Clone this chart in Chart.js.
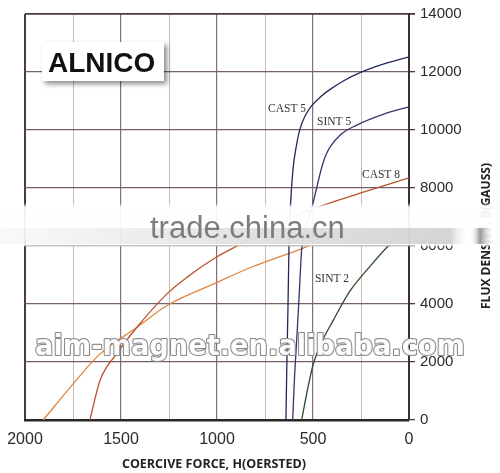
<!DOCTYPE html>
<html>
<head>
    <title>Alnico demagnetization curves</title>
    <style>
        body {
            margin: 0;
            background: #fff;
        }
    </style>
</head>
<body>
    <canvas id="chart" width="500" height="473"></canvas>

    <script src="https://cdn.jsdelivr.net/npm/chart.js"></script>
    <script>
        // curves: H in oersted, B in gauss
        var cast5H = [641, 636, 630, 625, 618, 604, 588, 568, 540, 505, 460, 411, 340, 255, 130, 0];
        var cast5B = [0, 2000, 4000, 6000, 7300, 8660, 9400, 10030, 10500, 10850, 11150, 11400, 11700, 11980, 12280, 12520];

        var sint5H = [606, 596, 585, 572, 559, 535, 507, 481, 455, 429, 359, 272, 135, 0];
        var sint5B = [0, 1500, 2740, 4300, 5890, 6700, 7290, 8000, 8700, 9200, 9820, 10170, 10540, 10800];

        var sint2H = [559, 530, 498, 450, 396, 307, 203, 99, 0];
        var sint2B = [0, 1000, 1950, 2750, 3420, 4450, 5300, 6060, 6600];

        var cast8H = [1662, 1609, 1522, 1418, 1262, 1158, 1002, 880, 700, 507, 250, 0];
        var cast8B = [0, 1370, 2290, 3190, 4340, 4910, 5620, 6050, 6700, 7260, 7830, 8350];

        // unlabeled orange line starting near 1900 Oe
        var lineH = [1905, 1748, 1609, 1418, 1262, 1002, 828, 550, 500, 300];
        var lineB = [0, 1255, 2280, 3190, 3940, 4740, 5250, 5930, 6060, 6550];

        var xTicks = [2000, 1500, 1000, 500, 0];
        var yTicks = [0, 2000, 4000, 6000, 8000, 10000, 12000, 14000];

        // where each curve name sits: [text, H, B]
        var curveNames = [
            ['CAST 5', 734, 10716],
            ['SINT 5', 479, 10270],
            ['CAST 8', 245, 8456],
            ['SINT 2', 490, 4860]
        ];

        function pts(hs, bs) {
            return hs.map(function (h, i) { return { x: h, y: bs[i] }; });
        }

        var overlay = {
            id: 'overlay',
            afterDatasetsDraw: function (chart) {
                var ctx = chart.ctx;
                var xs = chart.scales.x, ys = chart.scales.y;
                ctx.save();
                // curve names
                ctx.font = '11.5px "Liberation Serif", serif';
                ctx.fillStyle = '#333';
                ctx.textBaseline = 'middle';
                ctx.textAlign = 'left';
                curveNames.forEach(function (n) {
                    ctx.fillText(n[0], xs.getPixelForValue(n[1]), ys.getPixelForValue(n[2]));
                });

                // ALNICO box
                ctx.shadowColor = 'rgba(0,0,0,0.45)';
                ctx.shadowBlur = 5;
                ctx.shadowOffsetX = 3;
                ctx.shadowOffsetY = 3;
                ctx.fillStyle = '#fff';
                ctx.fillRect(42, 42, 122, 39);
                ctx.shadowColor = 'transparent';
                ctx.fillStyle = '#111';
                ctx.font = 'bold 28px "Liberation Sans", Arial, sans-serif';
                ctx.textBaseline = 'alphabetic';
                ctx.fillText('ALNICO', 48, 72);

                // axis titles
                ctx.font = 'bold 12.5px "Open Sans", sans-serif';
                ctx.fillStyle = '#222';
                ctx.textAlign = 'center';
                ctx.textBaseline = 'middle';
                ctx.fillText('COERCIVE FORCE, H(OERSTED)', 214, 464);
                ctx.translate(487, 236);
                ctx.rotate(-Math.PI / 2);
                ctx.font = 'bold 12px "Open Sans", sans-serif';
                ctx.fillText('FLUX DENSITY, B(GAUSS)', 0, 0);
                ctx.restore();
            },
            afterDraw: function (chart) {
                var ctx = chart.ctx;
                ctx.save();
                // watermark band: white strip over a light grey one
                var g = ctx.createLinearGradient(0, 203, 0, 247);
                g.addColorStop(0, 'rgba(255,255,255,0)');
                g.addColorStop(0.1, 'rgba(255,255,255,0.93)');
                g.addColorStop(0.55, 'rgba(255,255,255,0.95)');
                g.addColorStop(0.95, 'rgba(255,255,255,0.9)');
                g.addColorStop(1, 'rgba(255,255,255,0)');
                ctx.fillStyle = g;
                ctx.fillRect(0, 203, 500, 44);
                var gh = ctx.createLinearGradient(0, 0, 500, 0);
                gh.addColorStop(0, 'rgba(200,200,200,0.1)');
                gh.addColorStop(0.5, 'rgba(190,190,190,0.45)');
                gh.addColorStop(0.9, 'rgba(185,185,185,0.6)');
                gh.addColorStop(0.94, 'rgba(255,255,255,0)');
                gh.addColorStop(0.96, 'rgba(110,110,110,0.7)');
                gh.addColorStop(0.99, 'rgba(255,255,255,0)');
                ctx.fillStyle = gh;
                ctx.fillRect(0, 228, 500, 16);
                ctx.font = '31px "Liberation Sans", Arial, sans-serif';
                ctx.fillStyle = '#7d7d7d';
                ctx.textAlign = 'left';
                ctx.textBaseline = 'alphabetic';
                ctx.fillText('trade.china.cn', 150, 238);

                // outlined watermark
                var wm = 'aim-magnet.en.alibaba.com';
                ctx.font = 'bold 28px "DejaVu Sans", sans-serif';
                var w = ctx.measureText(wm).width;
                ctx.translate(35, 355);
                ctx.scale(430 / w, 1);
                ctx.lineWidth = 2.2;
                ctx.strokeStyle = '#8a8a8a';
                ctx.lineJoin = 'round';
                ctx.strokeText(wm, 0, 0);
                ctx.fillStyle = 'rgba(255,255,255,0.95)';
                ctx.fillText(wm, 0, 0);
                ctx.restore();
            }
        };

        var ctx = document.getElementById('chart').getContext('2d');
        new Chart(ctx, {
            type: 'line',
            data: {
                datasets: [
                    { label: 'CAST 5', data: pts(cast5H, cast5B), borderColor: '#2a2458' },
                    { label: 'SINT 5', data: pts(sint5H, sint5B), borderColor: '#40306c' },
                    { label: 'CAST 8', data: pts(cast8H, cast8B), borderColor: '#b9532c' },
                    { label: '', data: pts(lineH, lineB), borderColor: '#e0853f' },
                    { label: 'SINT 2', data: pts(sint2H, sint2B), borderColor: '#2e4a2b' }
                ]
            },
            options: {
                responsive: false,
                animation: false,
                devicePixelRatio: 1,
                parsing: false,
                layout: { padding: { left: 25, top: 11, right: 0, bottom: 0 } },
                elements: {
                    point: { radius: 0 },
                    line: { borderWidth: 1.3, cubicInterpolationMode: 'monotone', fill: false }
                },
                plugins: {
                    legend: { display: false },
                    tooltip: { enabled: false }
                },
                scales: {
                    x: {
                        type: 'linear',
                        reverse: true,
                        min: 0,
                        max: 2000,
                        afterFit: function (s) { s.height = 53; },
                        afterBuildTicks: function (s) {
                            var t = [];
                            for (var v = 0; v <= 2000; v += 250) t.push({ value: v });
                            s.ticks = t;
                        },
                        ticks: {
                            autoSkip: false,
                            maxRotation: 0,
                            padding: 10,
                            color: '#2a2a2a',
                            font: { family: '"Liberation Sans", Arial, sans-serif', size: 16 },
                            callback: function (v) { return xTicks.indexOf(v) >= 0 ? String(v) : ''; }
                        },
                        grid: {
                            drawTicks: false,
                            color: function (c) {
                                if (c.tick.value === 2000) return '#4a3d38';
                                return c.tick.value % 500 === 0 ? '#84707a' : '#c9bcb4';
                            },
                            lineWidth: function (c) {
                                if (c.tick.value === 2000) return 2;
                                return c.tick.value % 500 === 0 ? 1.2 : 1;
                            }
                        },
                        border: { color: '#2a2525', width: 2.5 }
                    },
                    y: {
                        type: 'linear',
                        position: 'right',
                        min: 0,
                        max: 14000,
                        afterFit: function (s) { s.width = 91; },
                        afterBuildTicks: function (s) {
                            s.ticks = yTicks.map(function (v) { return { value: v }; });
                        },
                        ticks: {
                            padding: 5,
                            color: '#2a2a2a',
                            font: { family: '"Liberation Sans", Arial, sans-serif', size: 15 },
                            callback: function (v) { return String(v); }
                        },
                        grid: {
                            tickLength: 6,
                            tickColor: '#4a3d38',
                            color: function (c) {
                                return c.tick.value === 14000 ? '#4a3d38' : '#74606a';
                            },
                            lineWidth: function (c) {
                                return c.tick.value === 14000 ? 1.8 : 1.3;
                            }
                        },
                        border: { color: '#3a3030', width: 2 }
                    }
                }
            },
            plugins: [overlay]
        });
    </script>
</body>
</html>
